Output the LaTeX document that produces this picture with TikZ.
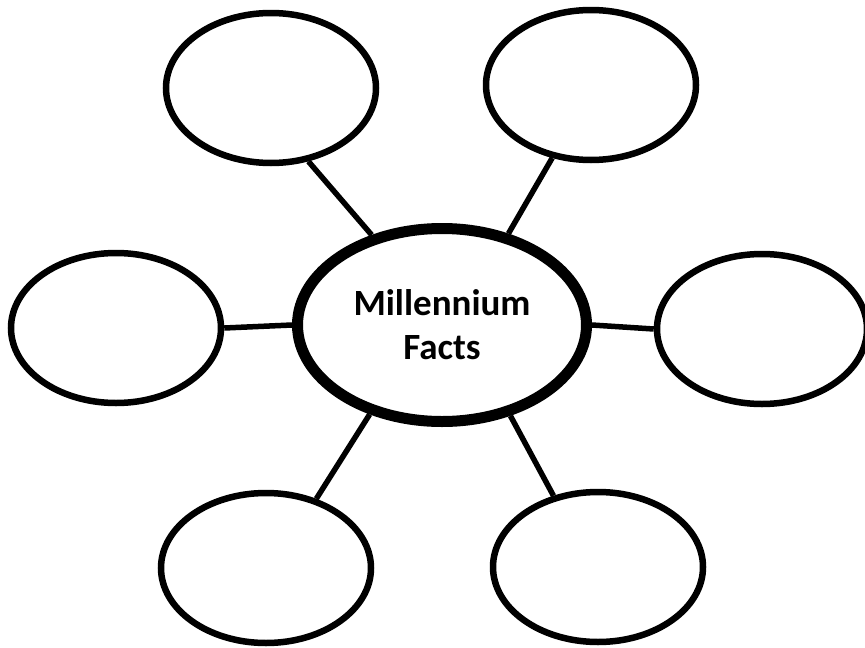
\documentclass[tikz,border=0pt]{standalone}
\usepackage{fontspec}
\setmainfont{Carlito}
\usetikzlibrary{shapes.geometric}
\begin{document}
\begin{tikzpicture}[x=1pt,y=-1pt,
  bubble/.style={ellipse,draw=black,line width=6.5pt,fill=white,inner sep=0pt,
    minimum width=210pt,minimum height=150pt},
  hub/.style={ellipse,draw=black,line width=11pt,fill=white,inner sep=0pt,
    minimum width=289pt,minimum height=193pt,align=center,
    font=\bfseries\fontsize{37}{44}\selectfont},
  link/.style={line width=5.5pt,black}]
\useasboundingbox (0,0) rectangle (865,648);
\node[hub] (c) at (442,325) {Millennium\\Facts};
\node[bubble] (tl) at (271,88) {};
\node[bubble] (tr) at (591,85) {};
\node[bubble] (l) at (116,328) {};
\node[bubble] (r) at (762,329) {};
\node[bubble] (bl) at (266,568) {};
\node[bubble] (br) at (598,567) {};
\draw[link] (tl.-63) -- (c.128);
\draw[link] (tr.-118) -- (c.54);
\draw[link] (l.0) -- (c.180);
\draw[link] (r.180) -- (c.0);
\draw[link] (bl.54) -- (c.-129);
\draw[link] (br.122) -- (c.-53);
\end{tikzpicture}
\end{document}
